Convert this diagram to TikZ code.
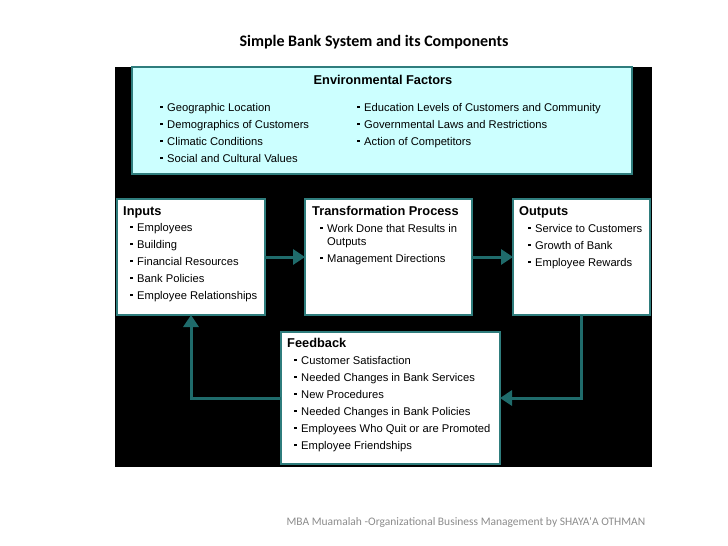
\documentclass[tikz,border=0pt]{standalone}
\usepackage{fontspec}
\setmainfont{Liberation Sans}
\newfontfamily\calibri{Carlito}
\usetikzlibrary{arrows.meta}
\definecolor{tealline}{RGB}{31,107,107}
\definecolor{tealedge}{RGB}{47,125,125}
\definecolor{envcyan}{RGB}{204,255,255}
\definecolor{footgray}{RGB}{140,140,140}
\newcommand{\itm}{\makebox[7pt][l]{\rule[2.8pt]{2.5pt}{2.5pt}}}
\tikzset{
  box/.style={draw=tealedge, line width=1.5pt, fill=white, anchor=north west, inner sep=0pt, outer sep=0pt},
  head/.style={font=\fontsize{12.8}{15}\selectfont\bfseries, inner sep=0pt, anchor=base west},
  % lists are placed by the baseline of their last line
  items/.style={font=\fontsize{11.2}{17}\selectfont, align=left, inner sep=0pt, anchor=base west},
  flow/.style={draw=tealline, line width=3pt, -{Triangle[length=12pt,width=15pt]}},
}
\begin{document}
\begin{tikzpicture}[x=1pt,y=-1pt]
  \useasboundingbox (0,0) rectangle (728,546);
  \node[font=\calibri\bfseries\fontsize{16}{19}\selectfont] (title) at (374,42) {Simple Bank System and its Components};
  \fill[black] (115,67) rectangle (652,467);
  % boxes
  \node[box, fill=envcyan, minimum width=500pt, minimum height=107pt] (env) at (132,67) {};
  \node[box, minimum width=148pt, minimum height=116pt] (inputs) at (117,199) {};
  \node[box, minimum width=167pt, minimum height=116pt] (transform) at (305,199) {};
  \node[box, minimum width=137pt, minimum height=116pt] (outputs) at (513,199) {};
  \node[box, minimum width=219pt, minimum height=132pt] (feedback) at (281,332) {};
  % texts
  \node[head, anchor=base] (envhead) at (383,84) {Environmental Factors};
  \node[items] (envleft) at (160,162) {\itm Geographic Location\\ \itm Demographics of Customers\\ \itm Climatic Conditions\\ \itm Social and Cultural Values};
  \node[items] (envright) at (357,145) {\itm Education Levels of Customers and Community\\ \itm Governmental Laws and Restrictions\\ \itm Action of Competitors};
  \node[head] (inputshead) at (123,215) {Inputs};
  \node[items] (inputslist) at (130,299) {\itm Employees\\ \itm Building\\ \itm Financial Resources\\ \itm Bank Policies\\ \itm Employee Relationships};
  \node[head] (transformhead) at (312,215) {Transformation Process};
  \node[items] (transformlist) at (320,262) {\itm Work Done that Results in\\[-4pt] \hspace*{7pt}Outputs\\ \itm Management Directions};
  \node[head] (outputshead) at (519,215) {Outputs};
  \node[items] (outputslist) at (528,266) {\itm Service to Customers\\ \itm Growth of Bank\\ \itm Employee Rewards};
  \node[head] (feedbackhead) at (287,347) {Feedback};
  \node[items] (feedbacklist) at (294,449) {\itm Customer Satisfaction\\ \itm Needed Changes in Bank Services\\ \itm New Procedures\\ \itm Needed Changes in Bank Policies\\ \itm Employees Who Quit or are Promoted\\ \itm Employee Friendships};
  % connectors
  \draw[flow] (inputs.east) -- (transform.west);
  \draw[flow] (transform.east) -- (outputs.west);
  \draw[flow] (outputs.south) |- (feedback.east);
  \draw[flow] (feedback.west) -| (inputs.south);
  \node[anchor=base west, text=footgray, font=\calibri\fontsize{11.5}{14}\selectfont] (footer) at (283,525) {MBA Muamalah -Organizational Business Management by SHAYA'A OTHMAN};
\end{tikzpicture}
\end{document}
